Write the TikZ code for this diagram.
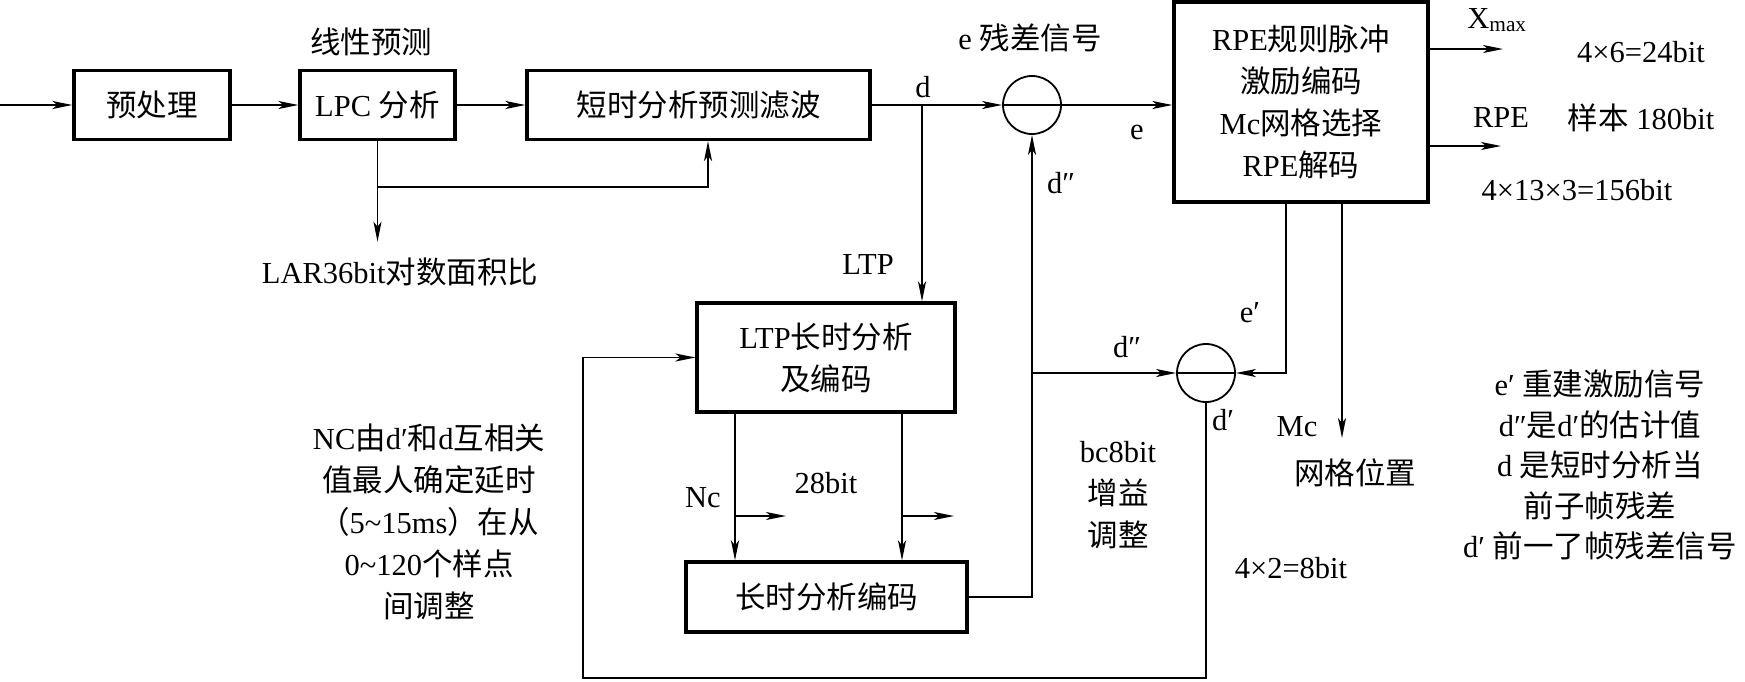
\documentclass[tikz,border=0pt]{standalone}
\usepackage{fontspec}
\setmainfont{Liberation Serif}
\newfontfamily\cjk{Noto Sans CJK SC}
\newcommand{\zh}[1]{{\cjk #1}}
\usetikzlibrary{arrows.meta, calc}

\begin{document}
\begin{tikzpicture}[x=1pt, y=-1pt, >={Stealth[length=20pt, width=8pt, inset=5pt]},
  font=\fontsize{30.5}{42}\selectfont,
  blk/.style={draw, line width=3.2pt, inner sep=0pt, align=center},
  sumnode/.style={draw, circle, line width=1.8pt, minimum size=58pt, inner sep=0pt},
  lbl/.style={inner sep=0pt, align=center},
  sig/.style={line width=1.8pt},
]
  \useasboundingbox (0,0) rectangle (1745,681);

  % blocks
  \node[blk, minimum width=156pt, minimum height=69pt] (pre) at (152,105) {\zh{预处理}};
  \node[blk, minimum width=155pt, minimum height=69pt] (lpc) at (377.5,105) {LPC \zh{分析}};
  \node[blk, minimum width=343pt, minimum height=69pt] (stf) at (698.5,105) {\zh{短时分析预测滤波}};
  \node[sumnode] (sum1) at (1032,105) {};
  \node[blk, minimum width=254pt, minimum height=200pt] (rpe) at (1301,102)
    {RPE\zh{规则脉冲}\\\zh{激励编码}\\Mc\zh{网格选择}\\RPE\zh{解码}};
  \node[blk, minimum width=258pt, minimum height=109pt] (ltp) at (826,357.5) {LTP\zh{长时分析}\\\zh{及编码}};
  \node[blk, minimum width=281pt, minimum height=70pt] (ltc) at (826.5,597) {\zh{长时分析编码}};
  \node[sumnode] (sum2) at (1206,373) {};

  % labels
  \node[lbl] (lpred) at (371,42) {\zh{线性预测}};
  \node[lbl] (lar) at (400,272) {LAR36bit\zh{对数面积比}};
  \node[lbl] (dlab) at (923,87) {d};
  \node[lbl] (reslab) at (1030,38) {e \zh{残差信号}};
  \node[lbl] (elab) at (1137,132) {e};
  \node[lbl] (ddlab1) at (1061,183) {d″};
  \node[lbl] (ltplab) at (868,265) {LTP};
  \node[lbl] (xmaxlab) at (1497,20) {X\textsubscript{max}};
  \node[lbl] (xbits) at (1641,52) {4×6=24bit};
  \node[lbl] (rpelab) at (1501,118) {RPE};
  \node[lbl] (rpebits) at (1641,118) {\zh{样本} 180bit};
  \node[lbl] (rpebits2) at (1577,190) {4×13×3=156bit};
  \node[lbl] (eplab) at (1250,313) {e′};
  \node[lbl] (ddlab2) at (1127,347) {d″};
  \node[lbl] (dplab) at (1223,420) {d′};
  \node[lbl] (mclab) at (1297,427) {Mc};
  \node[lbl] (gridlab) at (1355,473) {\zh{网格位置}};
  \node[lbl] (bclab) at (1118,495) {bc8bit\\\zh{增益}\\\zh{调整}};
  \node[lbl] (bcbits) at (1291,568) {4×2=8bit};
  \node[lbl] (nclab) at (703,498) {Nc};
  \node[lbl] (ltpbits) at (826,483) {28bit};
  \node[lbl] (ncnote) at (429,522) {NC\zh{由}d′\zh{和}d\zh{互相关}\\\zh{值最人确定延时}\\\zh{（}5\textasciitilde15ms\zh{）在从}\\0\textasciitilde120\zh{个样点}\\\zh{间调整}};
  \node[lbl, font=\fontsize{30.5}{40.5}\selectfont] (notes) at (1600,465)
    {e′ \zh{重建激励信号}\\d″\zh{是}d′\zh{的估计值}\\d \zh{是短时分析当}\\\zh{前子帧残差}\\d′ \zh{前一了帧残差信号}};

  % connectors
  \coordinate (src) at (0,105);
  \coordinate (tap) at ($(lpc.south)+(0,46)$);
  \coordinate (dj) at (922,105);
  \coordinate (xo) at (1503,49);
  \coordinate (ro) at (1501,146);
  \coordinate (mc) at (1342,438);
  \coordinate (dd) at (sum1.south |- sum2.west);
  \coordinate (fb) at (583,678);

  \draw[sig,->] (src) -- (pre);
  \draw[sig,->] (pre) -- (lpc);
  \draw[sig,->] (lpc) -- (stf);
  \draw[sig,->] (lpc.south) -- ([yshift=16pt]lpc.south |- lar.north);
  \draw[sig,->] (tap) -| ([xshift=9.5pt]stf.south);
  \draw[sig,->] (stf) -- (sum1);
  \draw[sig] (sum1.west) -- (sum1.east);
  \draw[sig,->] (sum1) -- (sum1 -| rpe.west);
  \draw[sig,->] (dj) -- (dj |- ltp.north);
  \draw[sig,->] (xo -| rpe.east) -- (xo);
  \draw[sig,->] (ro -| rpe.east) -- (ro);
  \draw[sig,->] (mc |- rpe.south) -- (mc);
  \draw[sig,->] ([xshift=-15pt]rpe.south) |- (sum2.east);
  \draw[sig] (sum2.west) -- (sum2.east);
  \draw[sig,->] (ltc.east) -| (sum1.south);
  \draw[sig,->] (dd) -- (sum2.west);
  \draw[sig,->] (sum2.south) |- (fb) |- (ltp.west);
  \foreach \dx in {-91,76} {
    \draw[sig,->] ([xshift=\dx pt]ltp.south) -- ([xshift=\dx pt]ltp.south |- ltc.north);
  }
  \foreach \xa/\xb [count=\k] in {735/786, 902/954} {
    \coordinate (b\k) at (\xa,516);
    \coordinate (t\k) at (\xb,516);
    \draw[sig,->] (b\k) -- (t\k);
  }
\end{tikzpicture}
\end{document}
